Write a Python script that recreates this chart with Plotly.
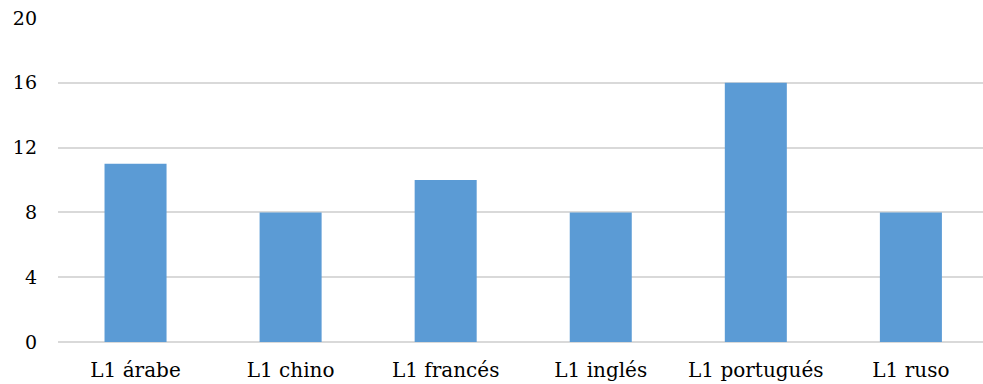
import plotly.graph_objects as go

categories = ["L1 árabe", "L1 chino", "L1 francés", "L1 inglés", "L1 portugués", "L1 ruso"]
values = [11, 8, 10, 8, 16, 8]
y_ticks = [0, 4, 8, 12, 16, 20]

fig = go.Figure(
    go.Bar(
        x=categories,
        y=values,
        marker=dict(color="#5B9BD5", line=dict(width=0)),
        hoverinfo="x+y",
    )
)

fig.update_layout(
    width=983,
    height=384,
    margin=dict(l=58, r=0, t=18, b=42),
    paper_bgcolor="white",
    plot_bgcolor="white",
    bargap=0.6,
    showlegend=False,
    font=dict(family="Georgia, 'DejaVu Serif', serif", color="#000000"),
)

fig.update_xaxes(
    type="category",
    range=[-0.5, 5.465],
    showgrid=False,
    showline=False,
    ticks="",
    ticklabelstandoff=14,
    tickfont=dict(size=20),
)

fig.update_yaxes(
    range=[0, 20],
    tickvals=y_ticks,
    showgrid=True,
    gridcolor="#D9D9D9",
    gridwidth=1.5,
    zeroline=True,
    zerolinecolor="#D9D9D9",
    zerolinewidth=1.5,
    showline=False,
    ticks="",
    ticklabelstandoff=20,
    tickfont=dict(size=19),
)

fig.write_html("out.html")
